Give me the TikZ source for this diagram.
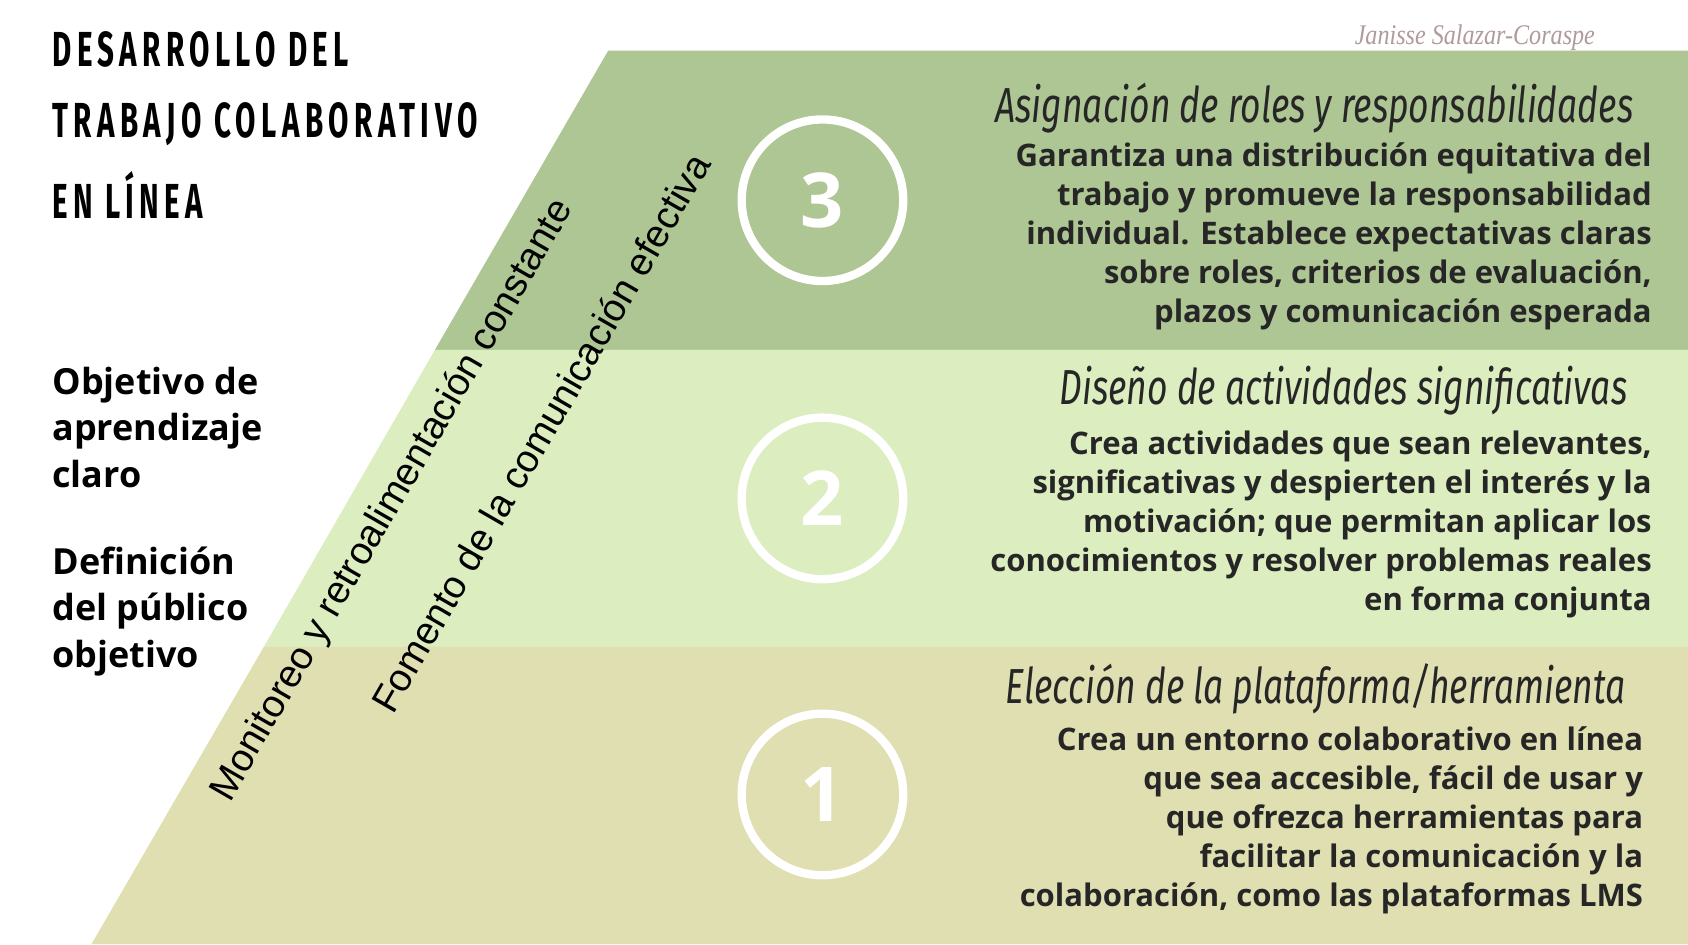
\documentclass[tikz,border=0pt]{standalone}
\usepackage{fontspec}
\setmainfont{Open Sans}
\newfontfamily\titlefont[FakeStretch=0.6, LetterSpace=11]{Fira Sans}
\newfontfamily\headfont[FakeStretch=0.72]{Fira Sans}
\newfontfamily\signfont[FakeStretch=0.85]{Liberation Serif}
\newfontfamily\tiltfont{Liberation Sans}
\definecolor{bandtop}{HTML}{AEC594}
\definecolor{bandmid}{HTML}{DCEDC0}
\definecolor{bandlow}{HTML}{DFDFB2}
\definecolor{signgray}{HTML}{B09A9A}
\tikzset{
  numring/.style={circle, draw=white, line width=2.2pt, minimum size=1.5cm, text=white, font=\bfseries\fontsize{20}{20}\selectfont},
  heading/.style={font=\headfont\itshape\fontsize{13}{14}\selectfont, text=black!85},
  bodytext/.style={align=right, anchor=east, font=\bfseries\fontsize{8.2}{10.3}\selectfont, text=black!85, inner sep=0pt},
  sidelabel/.style={align=left, anchor=west, font=\bfseries\fontsize{9.5}{12.2}\selectfont, inner sep=0pt},
  tilted/.style={rotate=60, font=\tiltfont\fontsize{10.2}{10}\selectfont}
}
\begin{document}
\begin{tikzpicture}[x=0.01cm, y=-0.01cm]
    \useasboundingbox (0,0) rectangle (1568,877);
    % bands
    \fill[bandtop] (565,47) -- (1568,47) -- (1568,325) -- (404,325) -- cycle;
    \fill[bandmid] (404,325) -- (1568,325) -- (1568,601) -- (245,601) -- cycle;
    \fill[bandlow] (245,601) -- (1568,601) -- (1568,877) -- (85,877) -- cycle;
    % signature
    \node[font=\signfont\itshape\fontsize{7.5}{8}\selectfont, text=signgray] (sign) at (1370,35) {Janisse Salazar-Coraspe};
    % title and side labels
    \node[sidelabel, font=\titlefont\bfseries\fontsize{13}{13}\selectfont] (title) at (48,116)
        {DESARROLLO DEL\\[0.2cm]TRABAJO COLABORATIVO\\[0.2cm]EN LÍNEA};
    \node[sidelabel] (goal) at (48,397) {Objetivo de\\aprendizaje\\claro};
    \node[sidelabel] (audience) at (48,568) {Definición\\del público\\objetivo};
    % tilted texts
    \node[tilted] (monitor) at (365,465) {Monitoreo y retroalimentación constante};
    \node[tilted] (foster) at (502,402) {Fomento de la comunicación efectiva};
    % rings
    \node[numring] (three) at (764,186) {3};
    \node[numring] (two) at (764,463) {2};
    \node[numring] (one) at (764,738) {1};
    % step 3
    \node[heading] (headthree) at (1221,100) {Asignación de roles y responsabilidades};
    \node[bodytext] (textthree) at (1535,220) {Garantiza una distribución equitativa del\\trabajo y promueve la responsabilidad\\individual. Establece expectativas claras\\sobre roles, criterios de evaluación,\\plazos y comunicación esperada};
    % step 2
    \node[heading] (headtwo) at (1248,363) {Diseño de actividades significativas};
    \node[bodytext] (texttwo) at (1535,487) {Crea actividades que sean relevantes,\\significativas y despierten el interés y la\\motivación; que permitan aplicar los\\conocimientos y resolver problemas reales\\en forma conjunta};
    % step 1
    \node[heading] (headone) at (1222,640) {Elección de la plataforma/herramienta};
    \node[bodytext] (textone) at (1527,762) {Crea un entorno colaborativo en línea\\que sea accesible, fácil de usar y\\que ofrezca herramientas para\\facilitar la comunicación y la\\colaboración, como las plataformas LMS};
\end{tikzpicture}
\end{document}
